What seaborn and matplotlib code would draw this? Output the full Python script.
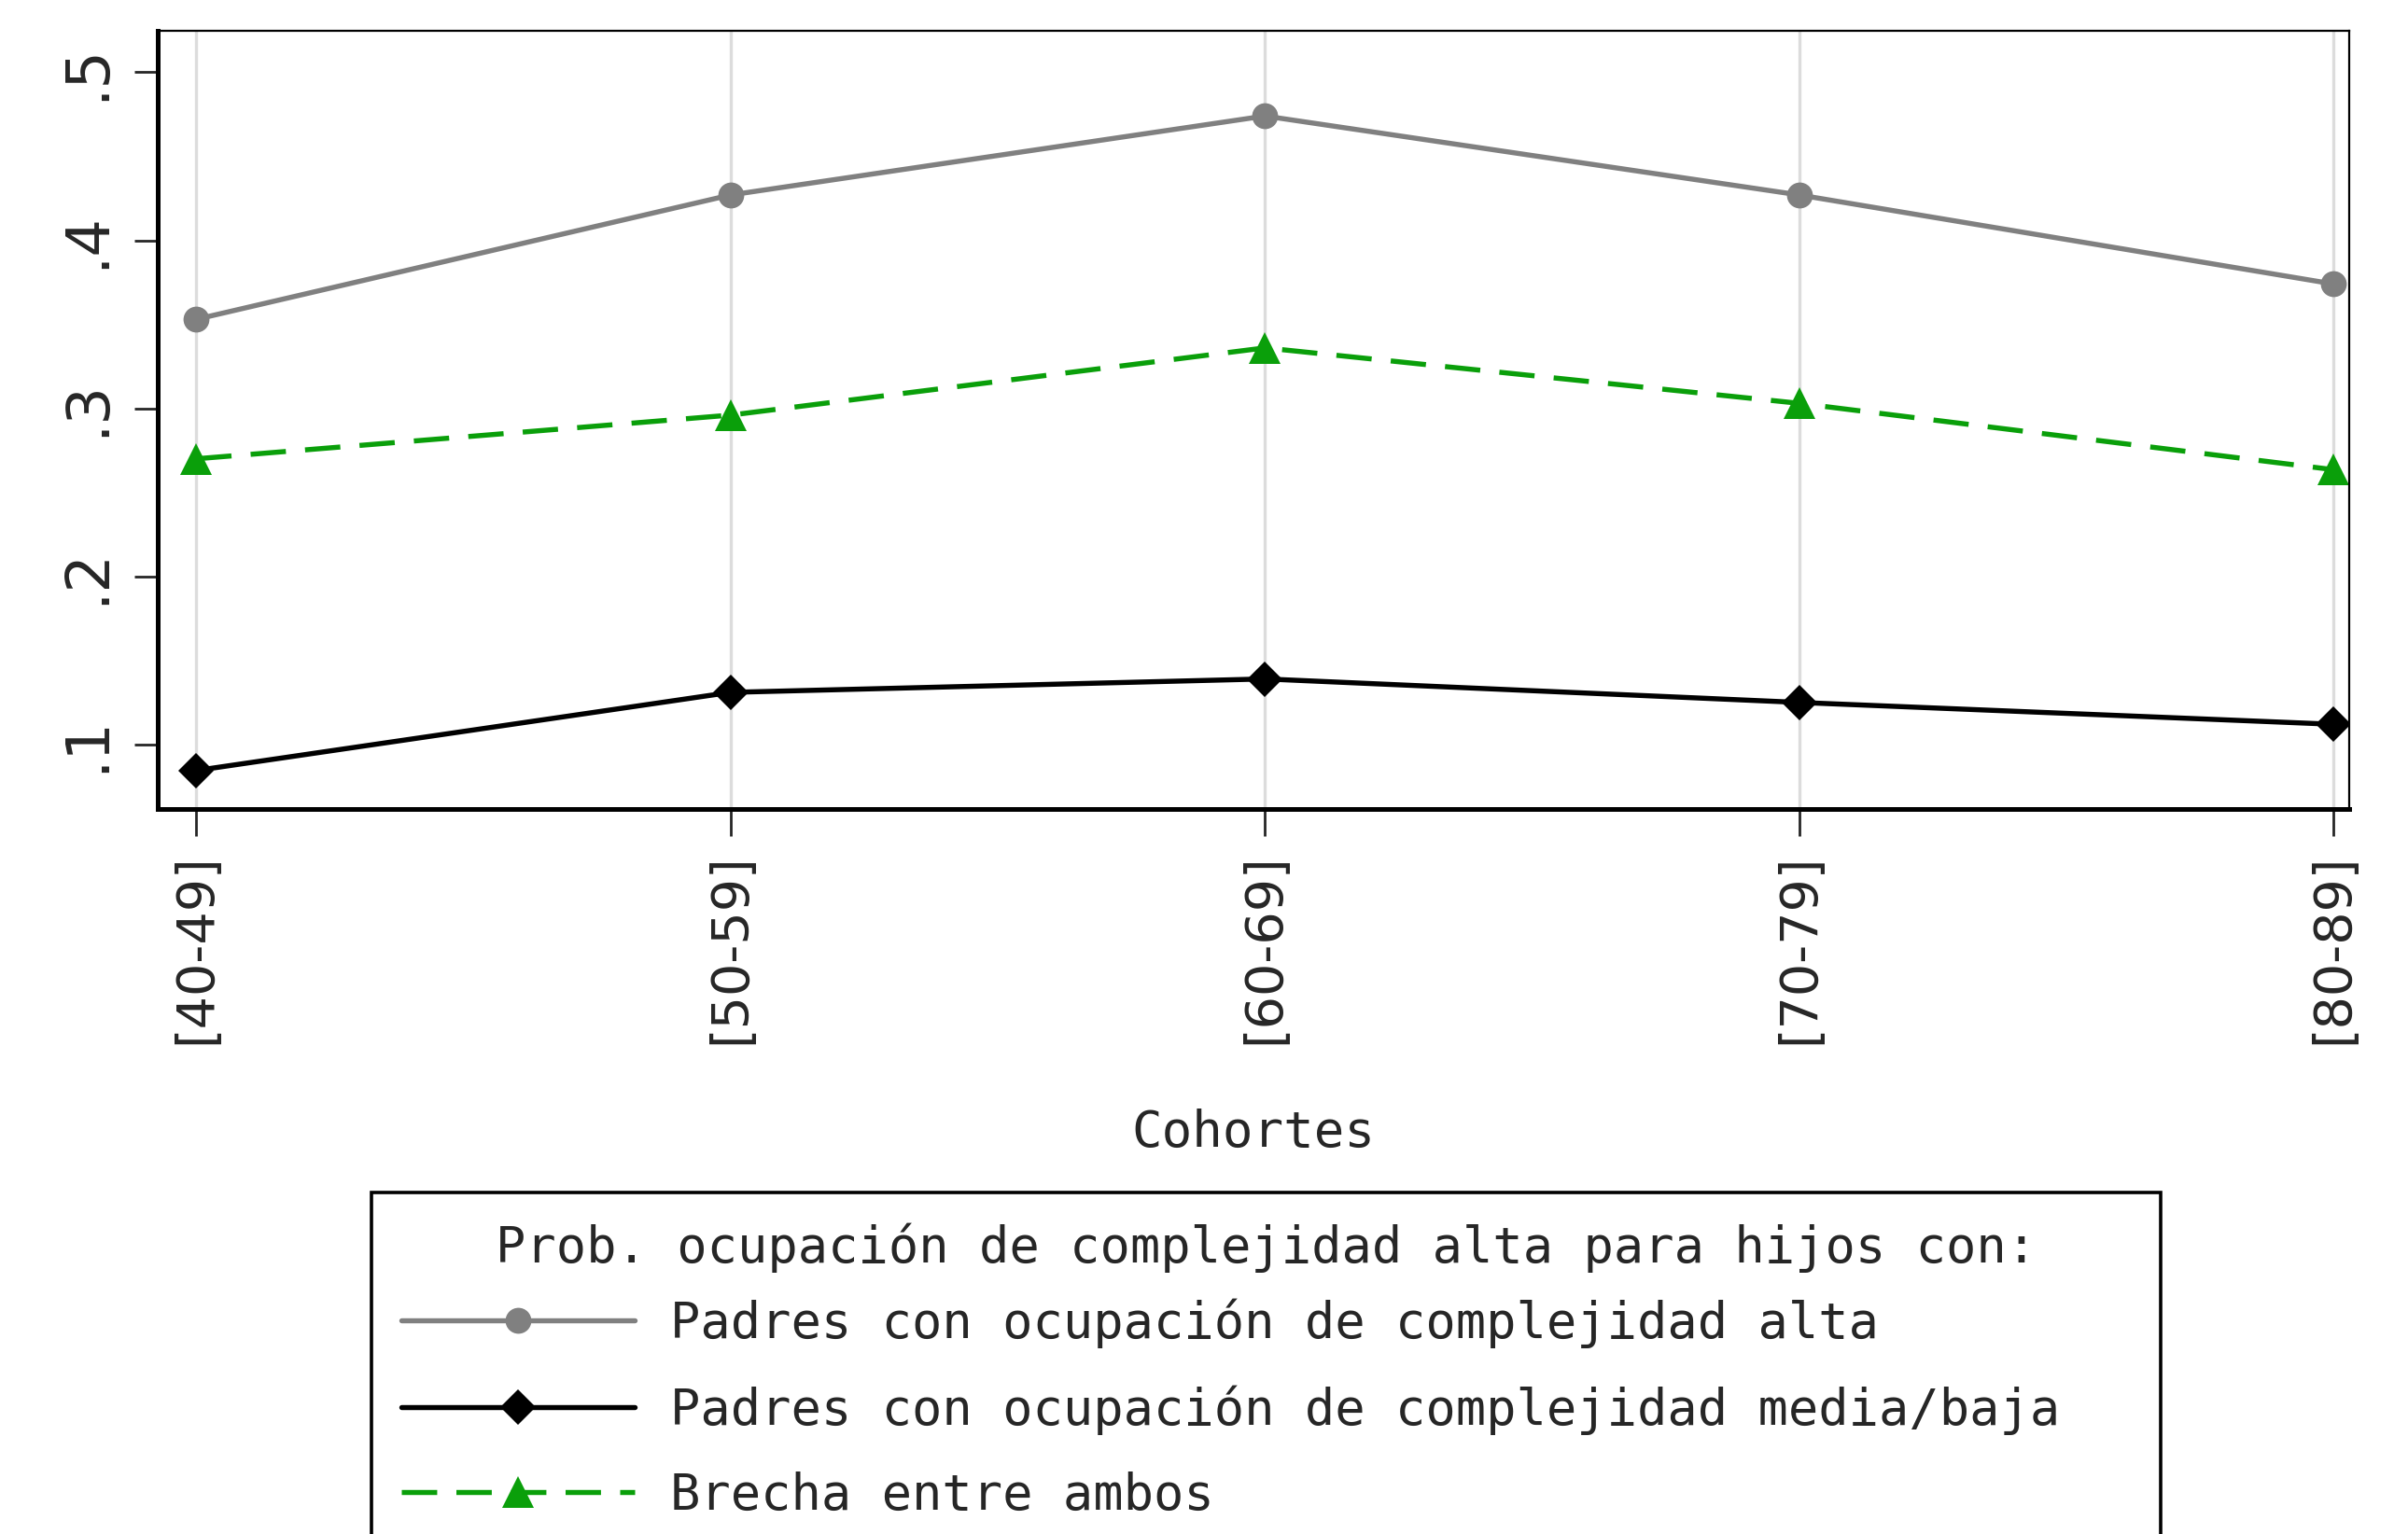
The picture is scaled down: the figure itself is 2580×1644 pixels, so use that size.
import pandas as pd
import numpy as np
import matplotlib
matplotlib.use("Agg")
import matplotlib.pyplot as plt
from matplotlib.patches import Rectangle
import seaborn as sns

cohortes = ["[40-49]", "[50-59]", "[60-69]", "[70-79]", "[80-89]"]
padres_alta = [0.353, 0.427, 0.474, 0.427, 0.374]
padres_media_baja = [0.0845, 0.131, 0.139, 0.125, 0.112]
brecha = [0.270, 0.296, 0.336, 0.303, 0.2635]

series_names = ["Padres con ocupación de complejidad alta",
                "Padres con ocupación de complejidad media/baja",
                "Brecha entre ambos"]
legend_title = "Prob. ocupación de complejidad alta para hijos con:"
y_ticks = [0.1, 0.2, 0.3, 0.4, 0.5]
y_ticklabels = [".1", ".2", ".3", ".4", ".5"]

sns.set_style("white")
plt.rcParams['font.family'] = ['DejaVu Sans']

df = pd.DataFrame({
    "cohorte": cohortes * 3,
    "prob": padres_alta + padres_media_baja + brecha,
    "serie": [series_names[0]] * 5 + [series_names[1]] * 5 + [series_names[2]] * 5,
})

styles = {
    series_names[0]: dict(color="#808080", marker="o", markersize=20, dashes=None),
    series_names[1]: dict(color="#000000", marker="D", markersize=19, dashes=None),
    series_names[2]: dict(color="#0a9f0a", marker="^", markersize=24, dashes=(7, 3.8)),
}

W, H = 2580, 1644
fig = plt.figure(figsize=(W / 100, H / 100), dpi=100)
ax = fig.add_axes([169 / W, 1 - 867 / H, (2517 - 169) / W, (867 - 33) / H])

for name in series_names:
    st = styles[name]
    sub = df[df.serie == name]
    sns.lineplot(data=sub, x="cohorte", y="prob", ax=ax, sort=False,
                 color=st["color"], marker=st["marker"],
                 markersize=st["markersize"], markeredgewidth=0,
                 linewidth=3.9, label=name)
    if st["dashes"] is not None:
        ax.lines[-1].set_dashes(st["dashes"])

ax.set_xlim(-0.072, 4.029)
ax.set_ylim(0.0616, 0.5247)
ax.set_yticks(y_ticks)
ax.set_yticklabels(y_ticklabels)
ax.grid(axis="x", color="#dcdcdc", linewidth=2.4)
ax.grid(axis="y", visible=False)
ax.set_axisbelow(True)

for side in ["top", "right"]:
    ax.spines[side].set_linewidth(1.6)
    ax.spines[side].set_color("black")
for side in ["bottom", "left"]:
    ax.spines[side].set_linewidth(3.6)
    ax.spines[side].set_color("black")

ax.tick_params(axis="y", direction="out", length=18, width=2, pad=14,
               labelsize=46, labelrotation=90, left=True)
for lab in ax.get_yticklabels():
    lab.set_va("center")
ax.tick_params(axis="x", direction="out", length=21, width=2, pad=13,
               labelsize=40, labelrotation=90, bottom=True)

ax.set_ylabel("")
ax.set_xlabel("Cohortes", fontsize=39, family="DejaVu Sans Mono", labelpad=50)

# legend box as in the original (wider than its content)
box_left, box_right, box_top = 398, 2315, 1278
fig.patches.append(Rectangle((box_left / W, -0.05), (box_right - box_left) / W,
                             1 - box_top / H + 0.05, transform=fig.transFigure,
                             facecolor="white", edgecolor="black", linewidth=2.6,
                             zorder=-1))

handles, labels = ax.get_legend_handles_labels()
leg = ax.legend(handles, labels, title=legend_title, loc="upper left",
                bbox_to_anchor=(box_left / W, 1 - box_top / H),
                bbox_transform=fig.transFigure, frameon=False,
                borderaxespad=0, handlelength=4.65, handletextpad=0.7,
                labelspacing=0.73, borderpad=0.6,
                prop={"family": "DejaVu Sans Mono", "size": 38.7},
                title_fontproperties={"family": "DejaVu Sans Mono", "size": 38.7})
leg._legend_box.align = "left"
leg._legend_box.sep = 20

# center the title within the box
fig.canvas.draw()
tb = leg.get_title().get_window_extent()
target = (box_left + box_right) / 2
leg.get_title().set_x(target - (tb.x0 + tb.x1) / 2)

fig.savefig("out.png", dpi=100, facecolor="white")
